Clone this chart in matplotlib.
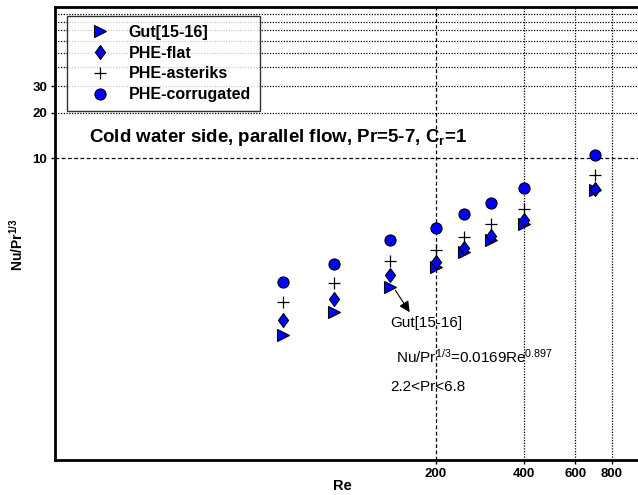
import numpy as np
import matplotlib
matplotlib.use("Agg")
import matplotlib.pyplot as plt
from matplotlib.path import Path

plt.rcParams['font.family'] = ['Liberation Sans', 'DejaVu Sans']
plt.rcParams['mathtext.fontset'] = 'custom'
plt.rcParams['mathtext.rm'] = 'Liberation Sans'
plt.rcParams['mathtext.it'] = 'Liberation Sans'
plt.rcParams['mathtext.bf'] = 'Liberation Sans:bold'
plt.rcParams['mathtext.default'] = 'regular'

# Reynolds numbers
re = [60, 90, 140, 200, 250, 310, 400, 700]
# Nu/Pr^(1/3) for each series
gut = [0.67, 0.95, 1.41, 1.91, 2.39, 2.87, 3.67, 6.10]
phe_flat = [0.85, 1.17, 1.68, 2.06, 2.53, 3.05, 3.87, 6.28]
phe_ast = [1.12, 1.48, 2.08, 2.46, 3.02, 3.67, 4.61, 7.69]
phe_corr = [1.52, 2.00, 2.87, 3.46, 4.24, 5.05, 6.34, 10.4]

xticks = [200, 400, 600, 800]
yticks = [10, 20, 30]
ygrid_minor = [40, 50, 60, 70, 80, 90]

fig = plt.figure(figsize=(6.38, 4.95), dpi=100)
ax = fig.add_axes([0.0862, 0.0707, 0.917, 0.915])
ax.set_xscale('log')
ax.set_yscale('log')
ax.set_xlim(10, 1000)
ax.set_ylim(0.1, 100)

dotted = (0, (1, 1.2))
dashed = (0, (3, 2))
for i, v in enumerate(yticks + ygrid_minor):
    ax.axhline(v, color='k', lw=0.9, ls=dashed if i == 0 else dotted, zorder=1)
for i, v in enumerate(xticks):
    ax.axvline(v, color='k', lw=0.9, ls=dashed if i == 0 else dotted, zorder=1)

# diamond a bit wider than matplotlib's thin diamond
diamond = Path([(0, 1), (0.73, 0), (0, -1), (-0.73, 0), (0, 1)],
               [Path.MOVETO, Path.LINETO, Path.LINETO, Path.LINETO, Path.CLOSEPOLY])

blue = '#0000ff'
ax.plot(re, gut, ls='none', marker='>', ms=9, mfc=blue, mec='k', mew=0.8,
        label='Gut[15-16]', zorder=3)
ax.plot(re, phe_flat, ls='none', marker=diamond, ms=10, mfc=blue, mec='k', mew=0.8,
        label='PHE-flat', zorder=3)
ax.plot(re, phe_ast, ls='none', marker='+', ms=8, mec='k', mew=0.9,
        label='PHE-asteriks', zorder=3)
ax.plot(re, phe_corr, ls='none', marker='o', ms=8, mfc=blue, mec='k', mew=0.8,
        label='PHE-corrugated', zorder=3)

ax.xaxis.set_major_locator(matplotlib.ticker.FixedLocator(xticks))
ax.xaxis.set_minor_locator(matplotlib.ticker.NullLocator())
ax.set_xticklabels([str(t) for t in xticks])
ax.yaxis.set_major_locator(matplotlib.ticker.FixedLocator(yticks))
ax.yaxis.set_minor_locator(matplotlib.ticker.NullLocator())
ax.set_yticklabels([str(t) for t in yticks])
ax.tick_params(axis='both', direction='out', length=3, width=1, labelsize=9.5, pad=2.5)
for lab in ax.get_xticklabels() + ax.get_yticklabels():
    lab.set_fontweight('bold')

for s in ax.spines.values():
    s.set_linewidth(2)

ax.set_xlabel('Re', fontsize=10.5, fontweight='bold')
ax.xaxis.label.set_va('center')
ax.xaxis.set_label_coords(0.492, -0.058)
ax.set_ylabel('Nu/Pr$^{1/3}$', fontsize=10, fontweight='bold')
ax.yaxis.label.set_va('center')
ax.yaxis.set_label_coords(-0.065, 0.475)

ax.text(0.058, 0.713, 'Cold water side, parallel flow, Pr=5-7, C$_r$=1',
        transform=ax.transAxes, fontsize=13.5, fontweight='bold', va='center')

ax.annotate('', xy=(165, 0.92), xytext=(144, 1.38),
            arrowprops=dict(arrowstyle='-|>', color='k', lw=0.8, mutation_scale=16))
ax.text(140, 0.813, 'Gut[15-16]', fontsize=11, va='center')
ax.text(146, 0.484, 'Nu/Pr$^{1/3}$=0.0169Re$^{0.897}$', fontsize=11, va='center')
ax.text(140, 0.303, '2.2<Pr<6.8', fontsize=11, va='center')

leg = ax.legend(loc='upper left', bbox_to_anchor=(0.0205, 0.98), borderaxespad=0,
                frameon=True, fancybox=False, edgecolor='k',
                handlelength=3.0, handletextpad=0.3, labelspacing=0.36,
                borderpad=0.55, prop={'weight': 'bold', 'size': 11.5})
leg.get_frame().set_linewidth(1.0)
leg.set_zorder(5)

fig.savefig('out.png', dpi=100)
